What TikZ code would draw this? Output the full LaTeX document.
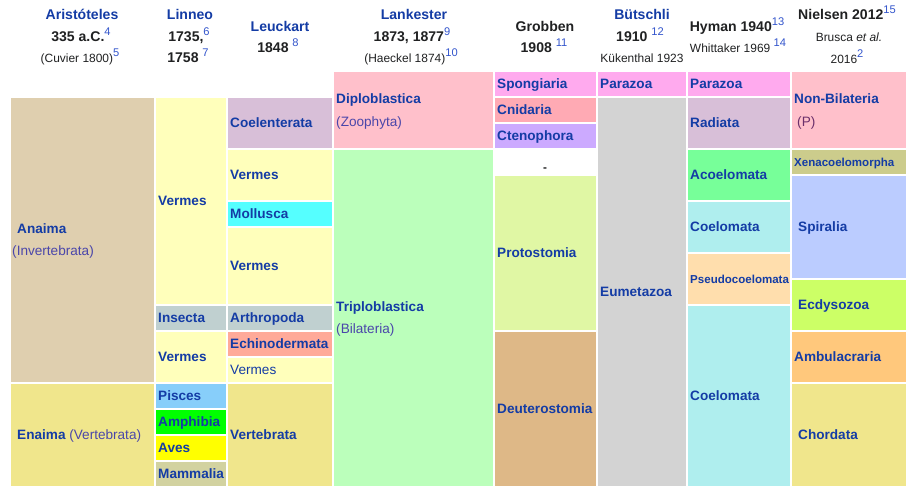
\documentclass[tikz,border=0pt]{standalone}
\usepackage{fontspec}
\setmainfont{Liberation Sans}
\usetikzlibrary{positioning}

\definecolor{taxblue}{HTML}{143CA5}
\definecolor{taxpurple}{HTML}{4A46AA}
\definecolor{parpurple}{HTML}{6B2F6B}
\definecolor{refblue}{HTML}{3355CC}
\definecolor{inkblack}{HTML}{202122}
\definecolor{anaimacol}{HTML}{DFCFAF}
\definecolor{khakicol}{HTML}{F0E68C}
\definecolor{vermescol}{HTML}{FFFFBB}
\definecolor{thistlecol}{HTML}{D8BFD8}
\definecolor{molluscol}{HTML}{55FFFF}
\definecolor{arthrocol}{HTML}{C0D0D0}
\definecolor{echinocol}{HTML}{FFAA99}
\definecolor{piscescol}{HTML}{87CEFA}
\definecolor{amphicol}{HTML}{00FF00}
\definecolor{avescol}{HTML}{FFFF00}
\definecolor{mammacol}{HTML}{D2D2A0}
\definecolor{pinkcol}{HTML}{FFC0CB}
\definecolor{triplocol}{HTML}{BBFFBB}
\definecolor{parazcol}{HTML}{FFAAEE}
\definecolor{cnidcol}{HTML}{FFAAB4}
\definecolor{ctenocol}{HTML}{CCAAFF}
\definecolor{protocol}{HTML}{E0F7A4}
\definecolor{deuterocol}{HTML}{DEB887}
\definecolor{eumetcol}{HTML}{D3D3D3}
\definecolor{acoelcol}{HTML}{77FF99}
\definecolor{coelomcol}{HTML}{AFEEEE}
\definecolor{pseudocol}{HTML}{FFDEAD}
\definecolor{xenacol}{HTML}{CCCC8C}
\definecolor{spiralcol}{HTML}{BBCCFF}
\definecolor{ecdycol}{HTML}{CCFF66}
\definecolor{ambulcol}{HTML}{FFC87C}

\newcommand{\citeno}[1]{\raisebox{5pt}{\normalfont\fontsize{9.5}{10}\selectfont\color{refblue}#1}}

\begin{document}
\begin{tikzpicture}[x=0.03cm,y=-0.03cm,
  cell/.style={anchor=west,inner sep=0pt,text height=8.3pt,text depth=0pt,text=taxblue,font=\fontsize{11.6}{13}\selectfont\bfseries},
  paren/.style={cell,text=taxpurple,font=\fontsize{11.6}{13}\selectfont},
  smallcell/.style={cell,text height=7.1pt,font=\fontsize{9.85}{11}\selectfont\bfseries},
  head/.style={anchor=base,inner sep=0pt,text=inkblack,font=\fontsize{12}{14}\selectfont\bfseries},
  note/.style={anchor=base,inner sep=0pt,text=inkblack,font=\fontsize{10.2}{12}\selectfont}]

 \useasboundingbox[fill=white] (0,0) rectangle (911,494);

 % column heads
 \node[head,text=taxblue] (aristoteles) at (82,19) {Aristóteles};
 \node[head] (aristyear) at (81,41) {335 a.C.\citeno{4}};
 \node[note] (cuvier) at (80,62) {(Cuvier 1800)\citeno{5}};
 \node[head,text=taxblue] (linneo) at (190,19) {Linneo};
 \node[head] (linneoyear) at (189,41) {1735,\citeno{6}};
 \node[head] (linneoyearb) at (188,62) {1758 \citeno{7}};
 \node[head,text=taxblue] (leuckart) at (280,31) {Leuckart};
 \node[head] (leuckyear) at (278,52) {1848 \citeno{8}};
 \node[head,text=taxblue] (lankester) at (414,19) {Lankester};
 \node[head] (lankyear) at (412,41) {1873, 1877\citeno{9}};
 \node[note] (haeckel) at (411,62) {(Haeckel 1874)\citeno{10}};
 \node[head] (grobben) at (545,31) {Grobben};
 \node[head] (grobyear) at (544,52) {1908 \citeno{11}};
 \node[head,text=taxblue] (butschli) at (642,19) {Bütschli};
 \node[head] (butyear) at (640,41) {1910 \citeno{12}};
 \node[note] (kukenthal) at (642,62) {Kükenthal 1923};
 \node[head] (hyman) at (737,31) {Hyman 1940\citeno{13}};
 \node[note] (whittaker) at (738,52) {Whittaker 1969 \citeno{14}};
 \node[head] (nielsen) at (847,19) {Nielsen 2012\citeno{15}};
 \node[note] (brusca) at (849,41) {Brusca \textit{et al.}};
 \node[note] (bruscayear) at (847,63) {2016\citeno{2}};

 % Aristoteles
 \fill[anaimacol] (11,98) rectangle (154,382);
 \node[cell] (anaima) at (17,229) {Anaima};
 \node[paren] (invert) at (12,251) {(Invertebrata)};
 \fill[khakicol] (11,384) rectangle (154,486);
 \node[cell] (enaima) at (17,435) {Enaima {\mdseries\color{taxpurple}(Vertebrata)}};

 % Linneo
 \fill[vermescol] (156,98) rectangle (226,304);
 \node[cell] (vermesa) at (158,201) {Vermes};
 \fill[arthrocol] (156,306) rectangle (226,330);
 \node[cell] (insecta) at (158,318) {Insecta};
 \fill[vermescol] (156,332) rectangle (226,382);
 \node[cell] (vermesb) at (158,357) {Vermes};
 \fill[piscescol] (156,384) rectangle (226,408);
 \node[cell] (pisces) at (158,396) {Pisces};
 \fill[amphicol] (156,410) rectangle (226,434);
 \node[cell] (amphibia) at (158,422) {Amphibia};
 \fill[avescol] (156,436) rectangle (226,460);
 \node[cell] (aves) at (158,448) {Aves};
 \fill[mammacol] (156,462) rectangle (226,486);
 \node[cell] (mammalia) at (158,474) {Mammalia};

 % Leuckart
 \fill[thistlecol] (228,98) rectangle (332,148);
 \node[cell] (coelenterata) at (230,123) {Coelenterata};
 \fill[vermescol] (228,150) rectangle (332,200);
 \node[cell] (vermesc) at (230,175) {Vermes};
 \fill[molluscol] (228,202) rectangle (332,226);
 \node[cell] (mollusca) at (230,214) {Mollusca};
 \fill[vermescol] (228,228) rectangle (332,304);
 \node[cell] (vermesd) at (230,266) {Vermes};
 \fill[arthrocol] (228,306) rectangle (332,330);
 \node[cell] (arthropoda) at (230,318) {Arthropoda};
 \fill[echinocol] (228,332) rectangle (332,356);
 \node[cell] (echinodermata) at (230,344) {Echinodermata};
 \fill[vermescol] (228,358) rectangle (332,382);
 \node[paren,text=taxblue] (vermese) at (230,370) {Vermes};
 \fill[khakicol] (228,384) rectangle (332,486);
 \node[cell] (vertebrata) at (230,435) {Vertebrata};

 % Lankester
 \fill[pinkcol] (334,72) rectangle (493,148);
 \node[cell] (diplo) at (336,99) {Diploblastica};
 \node[paren] (zoophyta) at (336,122) {(Zoophyta)};
 \fill[triplocol] (334,150) rectangle (493,486);
 \node[cell] (triplo) at (336,307) {Triploblastica};
 \node[paren] (bilateria) at (336,329) {(Bilateria)};

 % Grobben
 \fill[parazcol] (495,72) rectangle (596,96);
 \node[cell] (spongiaria) at (497,84) {Spongiaria};
 \fill[cnidcol] (495,98) rectangle (596,122);
 \node[cell] (cnidaria) at (497,110) {Cnidaria};
 \fill[ctenocol] (495,124) rectangle (596,148);
 \node[cell] (ctenophora) at (497,136) {Ctenophora};
 \node[anchor=base,inner sep=0pt,text=inkblack,font=\fontsize{10}{12}\selectfont\bfseries] (nodash) at (545,171) {-};
 \fill[protocol] (495,176) rectangle (596,330);
 \node[cell] (protostomia) at (497,253) {Protostomia};
 \fill[deuterocol] (495,332) rectangle (596,486);
 \node[cell] (deuterostomia) at (497,409) {Deuterostomia};

 % Butschli
 \fill[parazcol] (598,72) rectangle (686,96);
 \node[cell] (parazoaa) at (600,84) {Parazoa};
 \fill[eumetcol] (598,98) rectangle (686,486);
 \node[cell] (eumetazoa) at (600,292) {Eumetazoa};

 % Hyman
 \fill[parazcol] (688,72) rectangle (790,96);
 \node[cell] (parazoab) at (690,84) {Parazoa};
 \fill[thistlecol] (688,98) rectangle (790,148);
 \node[cell] (radiata) at (690,123) {Radiata};
 \fill[acoelcol] (688,150) rectangle (790,200);
 \node[cell] (acoelomata) at (690,175) {Acoelomata};
 \fill[coelomcol] (688,202) rectangle (790,252);
 \node[cell] (coelomataa) at (690,227) {Coelomata};
 \fill[pseudocol] (688,254) rectangle (790,304);
 \node[smallcell] (pseudo) at (690,279) {Pseudocoelomata};
 \fill[coelomcol] (688,306) rectangle (790,486);
 \node[cell] (coelomatab) at (690,396) {Coelomata};

 % Nielsen
 \fill[pinkcol] (792,72) rectangle (906,148);
 \node[cell] (nonbil) at (794,99) {Non-Bilateria};
 \node[paren,text=parpurple] (pmark) at (797,122) {(P)};
 \fill[xenacol] (792,150) rectangle (906,174);
 \node[smallcell] (xenaco) at (794,162) {Xenacoelomorpha};
 \fill[spiralcol] (792,176) rectangle (906,278);
 \node[cell] (spiralia) at (798,227) {Spiralia};
 \fill[ecdycol] (792,280) rectangle (906,330);
 \node[cell] (ecdysozoa) at (798,305) {Ecdysozoa};
 \fill[ambulcol] (792,332) rectangle (906,382);
 \node[cell] (ambulacraria) at (794,357) {Ambulacraria};
 \fill[khakicol] (792,384) rectangle (906,486);
 \node[cell] (chordata) at (798,435) {Chordata};

\end{tikzpicture}
\end{document}
